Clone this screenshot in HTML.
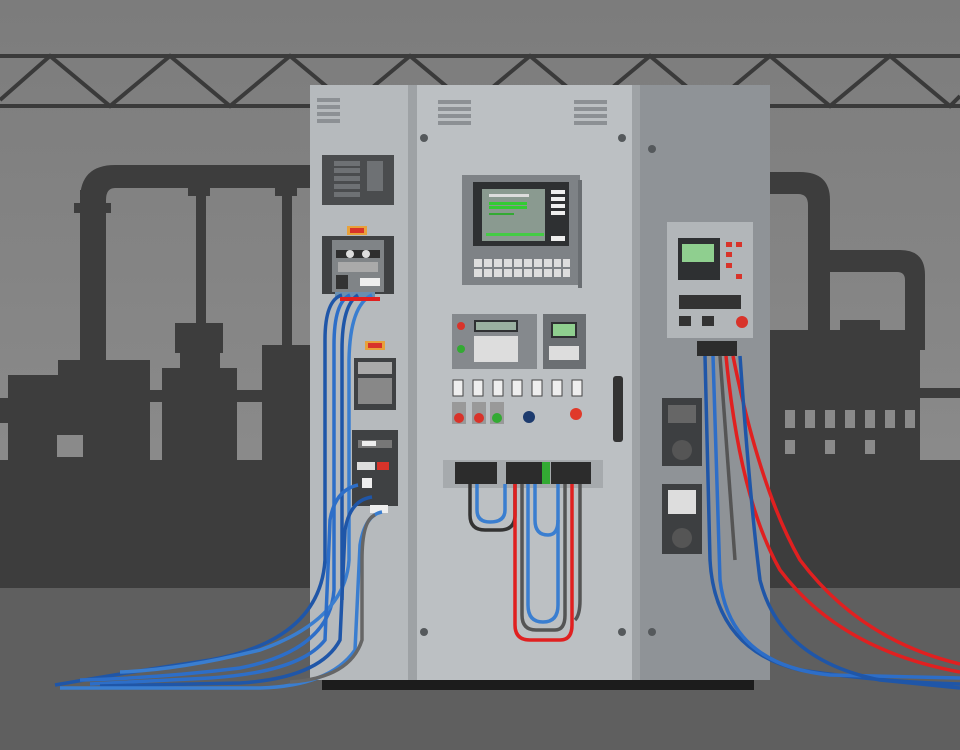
<!DOCTYPE html>
<html><head><meta charset="utf-8"><style>html,body{margin:0;padding:0;background:#888}svg{display:block}</style></head><body>
<svg width="960" height="750" viewBox="0 0 960 750" xmlns="http://www.w3.org/2000/svg" font-family="Liberation Sans, sans-serif">
<defs><linearGradient id="bg" x1="0" y1="0" x2="0" y2="1"><stop offset="0" stop-color="#7c7c7c"/><stop offset="1" stop-color="#939393"/></linearGradient></defs>
<rect width="960" height="750" fill="url(#bg)"/>
<!-- truss -->
<g stroke="#3a3a3a" stroke-width="4" fill="none">
<line x1="0" y1="56" x2="960" y2="56"/><line x1="0" y1="106" x2="960" y2="106"/>
<polyline points="0,100 50,56 110,106 170,56 230,106 290,56 350,106 410,56 470,106 530,56 590,106 650,56 710,106 770,56 830,106 890,56 950,106 960,96"/>
</g>
<!-- left silhouette -->
<g fill="#3d3d3d">
<rect x="0" y="460" width="320" height="128"/>
<rect x="80" y="190" width="26" height="230"/>
<path d="M80 200 Q80 165 115 165 L320 165 L320 188 L115 188 Q106 188 106 200Z"/>
<rect x="74" y="203" width="37" height="10"/>
<rect x="196" y="188" width="10" height="180"/><rect x="188" y="188" width="22" height="8"/>
<rect x="282" y="188" width="10" height="160"/><rect x="275" y="188" width="22" height="8"/>
<rect x="58" y="360" width="92" height="100"/><rect x="8" y="375" width="140" height="85"/><rect x="0" y="398" width="10" height="25"/>
<rect x="175" y="323" width="48" height="30"/><rect x="162" y="368" width="75" height="92"/><rect x="180" y="345" width="40" height="30"/>
<rect x="262" y="345" width="58" height="115"/><rect x="148" y="390" width="120" height="12"/>
</g>
<rect x="57" y="435" width="26" height="22" fill="#8a8a8a"/>
<!-- right silhouette -->
<g fill="#3d3d3d">
<rect x="765" y="460" width="195" height="128"/>
<path d="M770 172 L800 172 Q830 172 830 200 L830 350 L808 350 L808 205 Q808 194 798 194 L770 194Z"/>
<path d="M830 250 L900 250 Q925 250 925 275 L925 350 L905 350 L905 280 Q905 272 897 272 L830 272Z"/>
<rect x="770" y="330" width="150" height="130"/><rect x="840" y="320" width="40" height="20"/><rect x="920" y="388" width="40" height="10"/>
</g>
<g fill="#8a8a8a">
<rect x="785" y="410" width="10" height="18"/><rect x="805" y="410" width="10" height="18"/><rect x="825" y="410" width="10" height="18"/><rect x="845" y="410" width="10" height="18"/><rect x="865" y="410" width="10" height="18"/><rect x="885" y="410" width="10" height="18"/><rect x="905" y="410" width="10" height="18"/>
<rect x="785" y="440" width="10" height="14"/><rect x="825" y="440" width="10" height="14"/><rect x="865" y="440" width="10" height="14"/>
</g>
<rect x="0" y="588" width="960" height="162" fill="#5f5f5f"/>
<!-- cabinet -->
<rect x="310" y="85" width="100" height="595" fill="#b6babd"/>
<rect x="408" y="85" width="9" height="595" fill="#9ea2a5"/>
<rect x="417" y="85" width="215" height="595" fill="#bcc0c3"/>
<rect x="632" y="85" width="8" height="595" fill="#9ea2a5"/>
<rect x="640" y="85" width="130" height="595" fill="#8f9397"/>
<rect x="322" y="680" width="432" height="10" fill="#1c1c1c"/>
<g fill="#8c9094">
<rect x="317" y="98" width="23" height="4"/><rect x="317" y="105" width="23" height="4"/><rect x="317" y="112" width="23" height="4"/><rect x="317" y="119" width="23" height="4"/>
<rect x="438" y="100" width="33" height="4"/><rect x="438" y="107" width="33" height="4"/><rect x="438" y="114" width="33" height="4"/><rect x="438" y="121" width="33" height="4"/>
<rect x="574" y="100" width="33" height="4"/><rect x="574" y="107" width="33" height="4"/><rect x="574" y="114" width="33" height="4"/><rect x="574" y="121" width="33" height="4"/>
</g>
<g fill="#55595c"><circle cx="424" cy="138" r="4"/><circle cx="622" cy="138" r="4"/><circle cx="652" cy="149" r="4"/><circle cx="424" cy="632" r="4"/><circle cx="622" cy="632" r="4"/><circle cx="652" cy="632" r="4"/></g>
<!-- left panel devices -->
<rect x="322" y="155" width="72" height="50" fill="#4a4c4e"/>
<g fill="#6e7174"><rect x="334" y="161" width="26" height="5"/><rect x="334" y="168" width="26" height="5"/><rect x="334" y="176" width="26" height="5"/><rect x="334" y="184" width="26" height="5"/><rect x="334" y="192" width="26" height="5"/><rect x="367" y="161" width="16" height="30"/></g>
<rect x="347" y="226" width="20" height="9" fill="#e8a13a"/><rect x="350" y="228" width="14" height="5" fill="#d8332a"/>
<rect x="322" y="236" width="72" height="58" fill="#3f4143"/><rect x="332" y="240" width="52" height="52" fill="#808487"/>
<rect x="336" y="250" width="44" height="8" fill="#2e2e2e"/><circle cx="350" cy="254" r="4" fill="#ddd"/><circle cx="366" cy="254" r="4" fill="#ddd"/>
<rect x="338" y="262" width="40" height="10" fill="#aaa"/><rect x="336" y="275" width="12" height="14" fill="#333"/><rect x="360" y="278" width="20" height="8" fill="#eee"/>
<rect x="335" y="292" width="40" height="6" fill="#6a8fb0"/>
<rect x="365" y="341" width="20" height="9" fill="#e8a13a"/><rect x="368" y="343" width="14" height="5" fill="#d8332a"/>
<rect x="354" y="358" width="42" height="52" fill="#3f4143"/><rect x="358" y="362" width="34" height="12" fill="#aaa"/><rect x="358" y="378" width="34" height="26" fill="#888"/>
<rect x="352" y="430" width="46" height="76" fill="#3f4143"/><rect x="358" y="440" width="34" height="8" fill="#777"/><rect x="362" y="441" width="14" height="5" fill="#eee"/>
<rect x="357" y="462" width="18" height="8" fill="#ddd"/><rect x="377" y="462" width="12" height="8" fill="#d8332a"/>
<rect x="362" y="478" width="10" height="10" fill="#eee"/><rect x="370" y="505" width="18" height="8" fill="#eee"/>
<!-- middle panel -->
<rect x="462" y="175" width="118" height="110" fill="#7e8286"/><rect x="578" y="180" width="4" height="108" fill="#6a6e72"/>
<rect x="473" y="182" width="96" height="64" fill="#2e3032"/><rect x="482" y="189" width="63" height="52" fill="#8a9a90"/>
<rect x="489" y="194" width="40" height="3" fill="#ddd"/><rect x="489" y="202" width="38" height="3" fill="#3c3"/><rect x="489" y="206" width="38" height="3" fill="#3c3"/><rect x="489" y="213" width="25" height="2" fill="#3a3"/><rect x="486" y="233" width="58" height="3" fill="#4c4"/>
<g fill="#eee"><rect x="551" y="190" width="14" height="4"/><rect x="551" y="197" width="14" height="4"/><rect x="551" y="204" width="14" height="4"/><rect x="551" y="211" width="14" height="4"/><rect x="551" y="236" width="14" height="5"/></g>
<g fill="#eee"><rect x="474" y="259" width="96" height="18" fill="#ddd"/></g>
<g stroke="#7e8286" stroke-width="2"><line x1="474" y1="268" x2="570" y2="268"/><line x1="483" y1="259" x2="483" y2="277"/><line x1="493" y1="259" x2="493" y2="277"/><line x1="503" y1="259" x2="503" y2="277"/><line x1="513" y1="259" x2="513" y2="277"/><line x1="523" y1="259" x2="523" y2="277"/><line x1="533" y1="259" x2="533" y2="277"/><line x1="543" y1="259" x2="543" y2="277"/><line x1="553" y1="259" x2="553" y2="277"/><line x1="562" y1="259" x2="562" y2="277"/></g>
<rect x="452" y="314" width="85" height="55" fill="#85898d"/><rect x="474" y="320" width="44" height="12" fill="#2e3032"/><rect x="476" y="322" width="40" height="8" fill="#9ab0a0"/>
<circle cx="461" cy="326" r="4" fill="#d8332a"/><circle cx="461" cy="349" r="4" fill="#3a3"/><rect x="474" y="336" width="44" height="26" fill="#ddd"/>
<rect x="543" y="314" width="43" height="55" fill="#6b6f73"/><rect x="551" y="322" width="26" height="16" fill="#2e3032"/><rect x="553" y="324" width="22" height="12" fill="#8fcf8f"/><rect x="549" y="346" width="30" height="14" fill="#ddd"/>
<g fill="#eee" stroke="#444"><rect x="453" y="380" width="10" height="16"/><rect x="473" y="380" width="10" height="16"/><rect x="493" y="380" width="10" height="16"/><rect x="512" y="380" width="10" height="16"/><rect x="532" y="380" width="10" height="16"/><rect x="552" y="380" width="10" height="16"/><rect x="572" y="380" width="10" height="16"/></g>
<rect x="452" y="402" width="14" height="22" fill="#999"/><circle cx="459" cy="418" r="5" fill="#d8332a"/>
<rect x="472" y="402" width="14" height="22" fill="#999"/><circle cx="479" cy="418" r="5" fill="#d8332a"/>
<rect x="490" y="402" width="14" height="22" fill="#999"/><circle cx="497" cy="418" r="5" fill="#3a3"/>
<circle cx="529" cy="417" r="6" fill="#1d3b6e"/><circle cx="576" cy="414" r="6" fill="#e03a2a"/>
<rect x="613" y="376" width="10" height="66" rx="3" fill="#333"/>
<rect x="443" y="460" width="160" height="28" fill="#a6aaad"/>
<rect x="455" y="462" width="42" height="22" fill="#2c2c2c"/><rect x="506" y="462" width="38" height="22" fill="#2c2c2c"/><rect x="551" y="462" width="40" height="22" fill="#2c2c2c"/><rect x="542" y="462" width="8" height="22" fill="#3a3"/>
<g fill="none" stroke-width="3.5">
<path d="M470 484 L470 515 Q470 530 485 530 L500 530 Q515 530 515 515 L515 484" stroke="#333"/>
<path d="M477 484 L477 510 Q477 522 490 522 Q505 522 505 510 L505 484" stroke="#3a7ed0"/>
<path d="M515 484 L515 625 Q515 640 530 640 L560 640 Q572 640 572 625 L572 484" stroke="#e02020"/>
<path d="M522 484 L522 615 Q522 630 536 630 L555 630 Q565 630 565 615 L565 484" stroke="#555"/>
<path d="M528 484 L528 605 Q528 622 543 622 Q558 622 558 605 L558 484" stroke="#3a7ed0"/>
<path d="M535 484 L535 520 Q535 535 548 535 Q558 535 558 520" stroke="#3a7ed0"/>
<path d="M580 484 L580 600 Q580 615 575 620" stroke="#555"/>
</g>
<!-- right panel -->
<rect x="667" y="222" width="86" height="116" fill="#b2b6b9"/>
<rect x="678" y="238" width="42" height="42" fill="#2e3032"/><rect x="682" y="244" width="32" height="18" fill="#8fcf8f"/>
<g fill="#d8332a"><rect x="726" y="242" width="6" height="5"/><rect x="736" y="242" width="6" height="5"/><rect x="726" y="252" width="6" height="5"/><rect x="726" y="263" width="6" height="5"/><rect x="736" y="274" width="6" height="5"/></g>
<rect x="679" y="295" width="62" height="14" fill="#333"/><rect x="679" y="316" width="12" height="10" fill="#333"/><rect x="702" y="316" width="12" height="10" fill="#333"/><circle cx="742" cy="322" r="6" fill="#d8332a"/>
<rect x="697" y="341" width="40" height="15" fill="#2c2c2c"/>
<rect x="662" y="398" width="40" height="68" fill="#3d3f41"/><rect x="668" y="405" width="28" height="18" fill="#666"/><circle cx="682" cy="450" r="10" fill="#555"/>
<rect x="662" y="484" width="40" height="70" fill="#3d3f41"/><rect x="668" y="490" width="28" height="24" fill="#ddd"/><circle cx="682" cy="538" r="10" fill="#555"/>
<!-- left cables -->
<g fill="none" stroke-width="3.5">
<path d="M342 295 Q325 300 325 340 L325 560 Q320 640 210 660 Q130 672 55 685" stroke="#1f56a8"/>
<path d="M350 295 Q334 302 334 345 L334 590 Q330 650 240 668 Q160 678 80 680" stroke="#2d6ec8"/>
<path d="M358 295 Q342 305 342 350 L342 600" stroke="#1f56a8"/>
<path d="M372 295 Q350 305 349 360 L349 560 Q345 620 260 650 Q180 670 120 672" stroke="#3a7ed0"/>
<path d="M358 485 Q335 490 330 520 L325 640 Q300 672 210 678 L90 684" stroke="#2d6ec8"/>
<path d="M372 497 Q350 500 345 530 L340 640 Q320 678 240 683 L100 686" stroke="#1f56a8"/>
<path d="M382 512 Q365 515 360 545 L355 650 Q330 686 260 688 L60 688" stroke="#3a7ed0"/>
<path d="M375 515 Q362 520 362 560 L362 640 Q350 678 290 682" stroke="#666"/>
</g>
<path d="M340 299 L380 299" stroke="#e02020" stroke-width="4"/>
<!-- right cables -->
<g fill="none" stroke-width="3.5">
<path d="M705 356 L710 560 Q715 650 800 670 Q880 682 960 684" stroke="#1f56a8"/>
<path d="M713 356 L720 580 Q730 665 830 675 L960 678" stroke="#2d6ec8"/>
<path d="M720 356 L735 560" stroke="#555"/>
<path d="M726 356 Q740 500 780 570 Q840 650 960 672" stroke="#e02020"/>
<path d="M733 356 Q760 490 800 560 Q860 640 960 664" stroke="#e02020"/>
<path d="M740 356 Q750 500 760 580 Q780 660 880 680 L960 688" stroke="#1f56a8"/>
</g>
</svg>
</body></html>
